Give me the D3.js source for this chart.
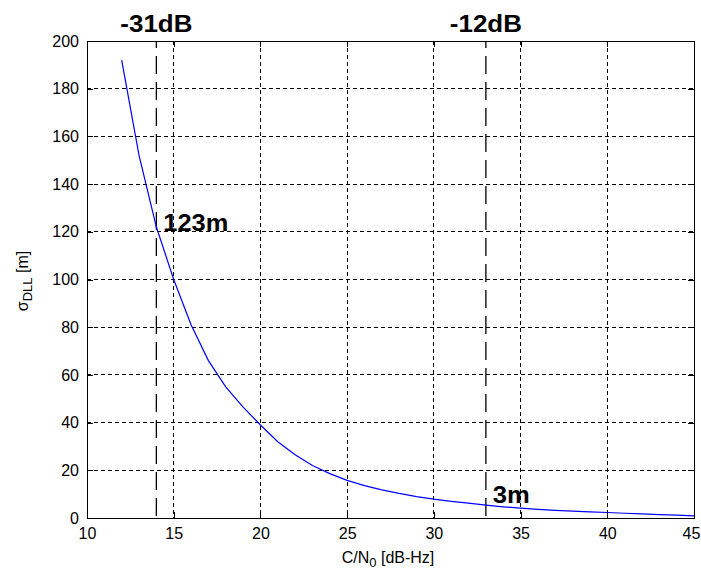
<!DOCTYPE html>
<html>
<head>
<meta charset="utf-8">
<script src="https://cdn.jsdelivr.net/npm/d3@7"></script>
<style>
  html, body { margin: 0; padding: 0; background: #fff; }
  svg { display: block; font-family: "Liberation Sans", Arial, sans-serif; }
</style>
</head>
<body>
<svg id="chart" width="701" height="569"></svg>
<script>
// ---- data ----
const cn0 = [12,13,14,15,16,17,18,19,20,21,22,23,24,25,26,27,28,29,30,31,32,33,34,35,36,37,38,39,40,41,42,43,44,45];
const sigmaDLL = [192,152,122,100,81,66,55,46.5,39,32,26.5,22,18.6,15.8,13.6,11.8,10.3,9,7.9,7,6.2,5.4,4.7,4.1,3.6,3.2,2.9,2.6,2.3,2.0,1.7,1.4,1.2,0.9];
const xTicks = [10,15,20,25,30,35,40,45];
const yTicks = [0,20,40,60,80,100,120,140,160,180,200];
const markerX = [14, 33];
const markerLabels = ["-31dB", "-12dB"];
const pointLabels = [{x: 14, y: 123, text: "123m"}, {x: 33, y: 3, text: "3m"}];

// ---- layout ----
const svg = d3.select("#chart");
const L = 87, R = 694, T = 41, B = 518;
const x = d3.scaleLinear().domain([10, 45]).range([L, R]);
const y = d3.scaleLinear().domain([0, 200]).range([B, T]);

// grid
const grid = svg.append("g").attr("stroke", "#000").attr("stroke-width", 1)
  .attr("stroke-dasharray", "4,3").attr("shape-rendering", "crispEdges");
xTicks.slice(1, -1).forEach(v => {
  grid.append("line").attr("x1", x(v)).attr("x2", x(v)).attr("y1", T).attr("y2", B);
});
yTicks.slice(1, -1).forEach(v => {
  grid.append("line").attr("x1", L).attr("x2", R).attr("y1", y(v)).attr("y2", y(v));
});

// marker vertical lines
svg.append("g").selectAll("line").data(markerX).join("line")
  .attr("x1", d => x(d)).attr("x2", d => x(d)).attr("y1", T).attr("y2", B)
  .attr("stroke", "#000").attr("stroke-width", 1.3)
  .attr("stroke-dasharray", "18,8").attr("stroke-dashoffset", 11);

// curve
svg.append("path")
  .datum(cn0.map((c, i) => [c, sigmaDLL[i]]))
  .attr("fill", "none").attr("stroke", "#0000ff").attr("stroke-width", 1.2)
  .attr("d", d3.line().x(d => x(d[0])).y(d => y(d[1])));

// axes (box with inward ticks)
const axB = svg.append("g").attr("transform", `translate(0,${B})`)
  .call(d3.axisBottom(x).tickValues(xTicks).tickSize(-6).tickPadding(9).tickFormat(d3.format("d")));
const axT = svg.append("g").attr("transform", `translate(0,${T})`)
  .call(d3.axisTop(x).tickValues(xTicks).tickSize(-6).tickFormat(""));
const axL = svg.append("g").attr("transform", `translate(${L},0)`)
  .call(d3.axisLeft(y).tickValues(yTicks).tickSize(-6).tickPadding(8).tickFormat(d3.format("d")));
const axR = svg.append("g").attr("transform", `translate(${R},0)`)
  .call(d3.axisRight(y).tickValues(yTicks).tickSize(-6).tickFormat(""));
[axB, axT, axL, axR].forEach(a => {
  a.select(".domain").remove();
  a.selectAll("line").attr("stroke", "#000").attr("shape-rendering", "crispEdges");
  a.selectAll("text").attr("font-size", 16).attr("fill", "#000")
    .attr("font-family", "Liberation Sans, Arial, sans-serif");
});
axB.selectAll("text").attr("dy", "0.71em").attr("y", 10);
// keep the last x label inside the window
axB.selectAll(".tick").filter(d => d === 45).select("text").attr("x", -3);

svg.append("rect").attr("x", L).attr("y", T).attr("width", R - L).attr("height", B - T)
  .attr("fill", "none").attr("stroke", "#000").attr("stroke-width", 1)
  .attr("shape-rendering", "crispEdges");

// axis labels
const xl = svg.append("text").attr("x", 388).attr("y", 563).attr("text-anchor", "middle")
  .attr("font-size", 16).attr("fill", "#000");
xl.append("tspan").text("C/N");
xl.append("tspan").text("0").attr("font-size", 13).attr("dy", 4);
xl.append("tspan").text(" [dB-Hz]").attr("dy", -4);

const yl = svg.append("text").attr("transform", "translate(28,281) rotate(-90)")
  .attr("text-anchor", "middle").attr("font-size", 16).attr("fill", "#000");
yl.append("tspan").text("σ");
yl.append("tspan").text("DLL").attr("font-size", 13).attr("dy", 4);
yl.append("tspan").text(" [m]").attr("dy", -4);

// annotations
svg.append("g").selectAll("text").data(markerX).join("text")
  .attr("x", d => x(d)).attr("y", 32).attr("text-anchor", "middle")
  .attr("font-size", 23).attr("font-weight", "bold").attr("fill", "#000")
  .attr("textLength", 72).attr("lengthAdjust", "spacingAndGlyphs")
  .text((d, i) => markerLabels[i]);

svg.append("g").selectAll("text").data(pointLabels).join("text")
  .attr("x", d => x(d.x) + 7).attr("y", (d, i) => i === 0 ? 231 : 503)
  .attr("font-size", 24).attr("font-weight", "bold").attr("fill", "#000")
  .attr("textLength", (d, i) => i === 0 ? 65 : 37).attr("lengthAdjust", "spacingAndGlyphs")
  .text(d => d.text);
</script>
</body>
</html>
